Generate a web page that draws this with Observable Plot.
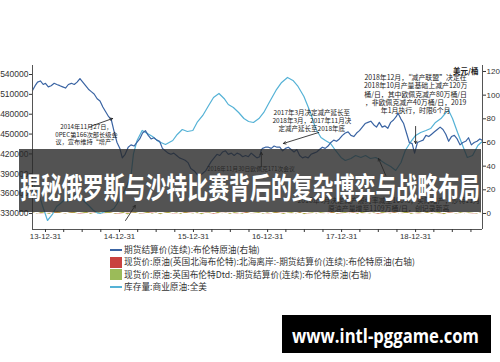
<!DOCTYPE html>
<html><head><meta charset="utf-8">
<script src="https://cdn.jsdelivr.net/npm/d3@7"></script>
<script src="https://cdn.jsdelivr.net/npm/@observablehq/plot@0.6"></script>
<style>
body{margin:0;background:#fff;}
#wrap{position:relative;width:500px;height:362px;overflow:hidden;background:#fff;font-family:"Noto Sans CJK SC","Noto Sans",sans-serif;}
#chart{position:absolute;left:0;top:0;}
#legend{position:absolute;left:110px;top:244px;font-size:8.7px;color:#333;line-height:12.3px;}
.row{display:flex;align-items:center;height:12.3px;white-space:nowrap;}
.sw{width:12px;margin-right:2px;flex:none;}
#overlay{position:absolute;left:0;top:0;}
</style></head><body>
<div id="wrap"><div id="chart"></div><div id="legend"></div><svg id="overlay" width="500" height="362"></svg></div>
<script>
// ---------- data ----------
const title = "揭秘俄罗斯与沙特比赛背后的复杂博弈与战略布局";
const watermark = "www.intl-pggame.com";
const rightUnit = "美元/桶";
const xDomain = ["2013-10-28", "2019-11-26"];
const leftTicks = [330000, 360000, 390000, 420000, 450000, 480000, 510000, 540000];
const rightTicks = [0, 20, 40, 60, 80, 100, 120];
const quarterTicks = ["2013-12-31","2014-03-31","2014-06-30","2014-09-30","2014-12-31","2015-03-31","2015-06-30","2015-09-30","2015-12-31","2016-03-31","2016-06-30","2016-09-30","2016-12-31","2017-03-31","2017-06-30","2017-09-30","2017-12-31","2018-03-31","2018-06-30","2018-09-30","2018-12-31","2019-03-31","2019-06-30","2019-09-30"];

const legendLabels = ["期货结算价(连续):布伦特原油(右轴)", "现货价:原油(英国北海布伦特):北海离岸:-期货结算价(连续):布伦特原油(右轴)", "现货价:原油:英国布伦特Dtd:-期货结算价(连续):布伦特原油(右轴)", "库存量:商业原油:全美"];
const legendKinds = ["line", "box", "box", "line"];
const colors = ["#3a64a3", "#c9423f", "#9bbb59", "#55b2d6"];

const brentDates = ["2013-10-28","2013-11-10","2013-11-22","2013-12-06","2013-12-20","2013-12-31","2014-01-14","2014-01-28","2014-02-12","2014-02-25","2014-03-12","2014-03-26","2014-04-09","2014-04-23","2014-05-08","2014-05-22","2014-06-05","2014-06-19","2014-07-03","2014-07-17","2014-07-31","2014-08-14","2014-08-28","2014-09-12","2014-09-26","2014-10-10","2014-10-24","2014-11-07","2014-11-21","2014-12-05","2014-12-19","2015-01-02","2015-01-14","2015-01-28","2015-02-12","2015-02-26","2015-03-13","2015-03-27","2015-04-10","2015-04-24","2015-05-08","2015-05-22","2015-06-05","2015-06-19","2015-07-03","2015-07-17","2015-07-31","2015-08-14","2015-08-28","2015-09-11","2015-09-25","2015-10-09","2015-10-23","2015-11-06","2015-11-20","2015-12-04","2015-12-18","2016-01-04","2016-01-18","2016-02-01","2016-02-15","2016-02-29","2016-03-14","2016-03-28","2016-04-11","2016-04-25","2016-05-09","2016-05-23","2016-06-06","2016-06-20","2016-07-05","2016-07-19","2016-08-02","2016-08-16","2016-08-30","2016-09-13","2016-09-27","2016-10-11","2016-10-25","2016-11-08","2016-11-22","2016-11-30","2016-12-06","2016-12-20","2017-01-04","2017-01-18","2017-02-01","2017-02-15","2017-03-01","2017-03-15","2017-03-29","2017-04-12","2017-04-26","2017-05-10","2017-05-24","2017-06-07","2017-06-21","2017-07-05","2017-07-19","2017-08-02","2017-08-16","2017-08-30","2017-09-13","2017-09-27","2017-10-11","2017-10-25","2017-11-08","2017-11-22","2017-12-06","2017-12-20","2018-01-04","2018-01-18","2018-02-01","2018-02-15","2018-03-01","2018-03-15","2018-03-29","2018-04-12","2018-04-26","2018-05-10","2018-05-24","2018-06-07","2018-06-21","2018-07-05","2018-07-19","2018-08-02","2018-08-16","2018-08-30","2018-09-13","2018-09-27","2018-10-05","2018-10-19","2018-11-02","2018-11-16","2018-11-30","2018-12-14","2018-12-26","2019-01-09","2019-01-23","2019-02-06","2019-02-20","2019-03-06","2019-03-20","2019-04-03","2019-04-17","2019-05-01","2019-05-15","2019-05-29","2019-06-12","2019-06-26","2019-07-10","2019-07-24","2019-08-07","2019-08-21","2019-09-04","2019-09-18","2019-10-02","2019-10-16","2019-10-30","2019-11-13","2019-11-22"];
const brentValues = [104,108,111,112,109,110,107,108,110,109,108,107,106,109,110,109,111,114,111,108,105,103,101,97,95,90,86,82,79,69,60,55,47,50,56,58,57,60,63,68,70,66,63,64,62,61,55,53,51,50,51,49,47,46,45,43,38,36,33,32,34,36,40,44,47,50,49,52,53,50,51,49,51,50,48,49,48,51,49,47,48,54,55,56,56,55,57,56,56,53,55,56,54,52,54,49,47,48,47,50,51,52,54,56,55,57,60,62,61,63,66,68,69,66,65,68,70,73,76,77,78,75,73,77,73,74,72,77,79,82,85,80,76,68,60,59,51,60,61,62,66,65,67,69,71,73,71,67,61,65,66,63,58,60,61,64,58,60,61,63,62];

const invDates = ["2013-10-30","2013-11-14","2013-11-27","2013-12-16","2014-01-10","2014-02-03","2014-02-24","2014-03-15","2014-04-05","2014-04-20","2014-05-05","2014-05-22","2014-06-06","2014-06-20","2014-07-05","2014-08-01","2014-08-25","2014-09-12","2014-09-27","2014-10-22","2014-11-18","2014-12-05","2014-12-20","2015-01-18","2015-02-05","2015-02-25","2015-03-10","2015-03-28","2015-04-22","2015-05-18","2015-06-12","2015-07-12","2015-08-15","2015-09-20","2015-10-12","2015-11-06","2015-12-01","2015-12-28","2016-01-18","2016-02-15","2016-03-15","2016-04-08","2016-05-05","2016-05-30","2016-06-20","2016-07-15","2016-08-10","2016-09-05","2016-09-28","2016-10-22","2016-11-18","2016-12-12","2017-01-05","2017-02-10","2017-03-10","2017-04-08","2017-05-05","2017-05-30","2017-06-28","2017-07-30","2017-08-25","2017-09-20","2017-10-12","2017-11-06","2017-12-01","2017-12-28","2018-01-18","2018-02-15","2018-03-10","2018-04-05","2018-04-28","2018-05-22","2018-06-18","2018-07-12","2018-08-03","2018-08-30","2018-09-24","2018-10-20","2018-11-10","2018-12-05","2018-12-31","2019-01-25","2019-02-20","2019-03-15","2019-04-08","2019-05-05","2019-05-30","2019-06-12","2019-07-01","2019-07-26","2019-08-20","2019-09-12","2019-10-08","2019-11-03","2019-11-22"];
const invValues = [375300,368000,361700,342000,319400,328500,340600,345100,351100,348000,355700,358000,360200,354000,349600,342100,334500,331000,330000,333000,334500,338000,345100,360200,372000,384400,420000,440300,455400,450900,446300,438800,434300,440300,449400,456900,453900,455400,467500,478100,493200,505300,511300,503800,494700,490200,482600,473500,469000,467500,473500,482600,496200,515900,528000,535500,531000,521900,506800,482600,458400,444800,440300,435800,425200,414600,410100,413100,417600,414600,417600,413100,414600,410100,405500,401000,395000,407100,425200,437300,447900,452400,455400,458400,467500,473500,482600,485600,473500,452400,432700,414600,417600,432700,438000];

// spreads (right axis, $/bbl), evenly sampled from 2013-11 to 2019-11
const dtdSpread = [0.6,-0.4,1.1,0.3,-0.8,0.9,1.4,0.2,-0.5,0.7,1.0,-0.3,0.5,1.2,-0.9,0.4,0.8,-0.2,1.5,0.6,-0.7,0.3,1.1,-1.2,0.5,0.9,-0.4,0.2,1.3,-0.6,0.7,-1.0,0.4,1.0,-0.3,0.6,-0.8,1.2,0.1,-0.5,0.9,-1.1,0.3,0.7,-0.4,1.0,-0.2,0.5,-0.9,0.8,0.2,-0.6,1.1,-0.3,0.4,0.9,-0.7,0.6,-0.2,1.3,0.3,-0.8,0.5,0.8,-0.4,1.0,-1.0,0.2,0.7,-0.5,0.9,0.1,-0.3,1.2,-0.6,0.4,0.8,-0.2,0.6,-0.9,1.0,0.3,-0.4,0.7,-0.7,1.1,0.2,-0.5,0.9,-0.3,0.5,1.4,-0.8,0.3,0.6,-0.2,1.0,-0.6,0.4,0.8,-1.0,0.5,0.2,-0.4,0.9,-0.3,0.7,0.1,-0.5,0.6];
const northSeaSpread = [0.3,-0.5,0.2,0.6,-0.3,0.4,-0.6,0.2,0.5,-0.2,0.3,-0.7,0.4,0.1,-0.4,0.6,-0.2,0.3,-0.5,0.2,0.4,-0.3,0.5,-0.6,0.2,0.3,-0.4,0.6,-0.2,0.1,-0.5,0.4,0.2,-0.3,0.5,-0.4,0.3,-0.2,0.6,-0.5,0.2,0.4,-0.3,0.1,-0.6,0.3,0.5,-0.2,0.4,-0.4,0.2,0.3,-0.5,0.6,-0.2,0.3,-0.4,0.2];

// annotations: text, date, level (left-axis units), anchor, font size
const noteTexts = [
  "2014年11月27日，\n0PEC第166次部长级会\n议，宣布维持“增产”",
  "2016年11月30日欧佩克171次会议",
  "2017年3月决定减产延长至\n2018年3月，2017年11月决\n定减产延长至2018年底",
  "2018年12月，“减产联盟”决定在\n2018年10月产量基础上减产120万\n桶/日，其中欧佩克减产80万桶/日\n，非欧佩克减产40万桶/日，2019\n年1月执行，时限6个月",
  "2018年6月决定减产履约率减至100%，实际增产，沙特11月\n原油产量增至1109万桶/日，创记录新高"
];
const noteDates = ["2014-07-21", "2016-03-08", "2017-08-06", "2018-12-31", "2018-08-20"];
const noteLevels = [449400, 398000, 470500, 510600, 343600];
const noteAnchors = ["middle", "start", "middle", "middle", "middle"];
const noteSizes = [6.2, 5.8, 6.5, 6.9, 6.9];

// arrows: from (date, level) to (date, level)
const arrowFrom = [["2014-08-14", 462000], ["2016-11-30", 401000], ["2017-09-09", 452400], ["2018-12-31", 461500], ["2018-08-06", 387400], ["2015-01-30", 319400]];
const arrowTo = [["2014-11-27", 473500], ["2016-11-30", 422200], ["2017-03-19", 435800], ["2018-12-31", 435800], ["2018-07-01", 413100], ["2015-03-19", 342100]];

// ---------- chart ----------
const toInv = v => 330000 + v * 1788;
const fromInv = d => (d - 330000) / 1788;
const P = s => new Date(s + "T00:00:00Z");
const x0 = P(xDomain[0]), x1 = P(xDomain[1]);
const yDomain = [305800, 553600];

const brent = brentDates.map((d, i) => ({date: P(d), y: toInv(brentValues[i])}));
const inv = invDates.map((d, i) => ({date: P(d), y: invValues[i]}));
const spanDays = (P("2019-11-20") - P("2013-11-01")) / 864e5;
const dtd = dtdSpread.map((v, i) => ({date: d3.utcDay.offset(P("2013-11-01"), Math.round(i * spanDays / (dtdSpread.length - 1))), y: toInv(v)}));
const ns = northSeaSpread.map((v, i) => ({date: d3.utcDay.offset(P("2013-11-01"), Math.round(i * spanDays / (northSeaSpread.length - 1))), y: toInv(v)}));
const qTicks = quarterTicks.map(P);
const fmt = d3.utcFormat("%y-%m-%d");

const noteMarks = noteTexts.map((t, i) => Plot.text([{date: P(noteDates[i]), y: noteLevels[i], t}], {
  x: "date", y: "y", text: "t", textAnchor: noteAnchors[i], lineAnchor: "middle",
  fontSize: noteSizes[i], lineHeight: 1.2, fill: "#1a1a1a",
  fontFamily: "'Noto Sans CJK SC', sans-serif"
}));
const arrows = arrowFrom.map((a, i) => ({xa: P(a[0]), ya: a[1], xb: P(arrowTo[i][0]), yb: arrowTo[i][1]}));

const chart = Plot.plot({
  width: 500, height: 245,
  marginLeft: 32, marginRight: 18, marginTop: 65, marginBottom: 16,
  x: {type: "utc", domain: [x0, x1]},
  y: {domain: yDomain},
  style: {fontFamily: "'Liberation Sans','Noto Sans CJK SC',sans-serif", fontSize: "8.5px", color: "#333", background: "transparent"},
  marks: [
    Plot.areaY(dtd, {x: "date", y1: toInv(0), y2: "y", fill: "#a9ad45", fillOpacity: 0.95}),
    Plot.areaY(ns, {x: "date", y1: toInv(0), y2: "y", fill: colors[1], fillOpacity: 0.6}),
    Plot.line(inv, {x: "date", y: "y", stroke: colors[3], strokeWidth: 1.2}),
    Plot.line(brent, {x: "date", y: "y", stroke: colors[0], strokeWidth: 1.2}),
    ...noteMarks,
    Plot.arrow(arrows, {x1: "xa", y1: "ya", x2: "xb", y2: "yb", stroke: "#111", strokeWidth: 0.8, headLength: 5}),
    Plot.text([{date: x1, y: toInv(120), t: rightUnit}], {x: "date", y: "y", text: "t", textAnchor: "end", dx: -4, fontSize: 7.5, fontWeight: "bold", fill: "#222", fontFamily: "'Noto Sans CJK SC', sans-serif"}),
    Plot.ruleX([x0], {stroke: "#555", strokeWidth: 1}),
    Plot.ruleX([x1], {stroke: "#555", strokeWidth: 1}),
    Plot.ruleY([yDomain[0]], {stroke: "#555", strokeWidth: 1}),
    Plot.axisY(leftTicks, {anchor: "left", tickSize: 3, tickPadding: 1, label: null, tickFormat: d => String(d), fontSize: 8.5}),
    Plot.axisY(rightTicks.map(toInv), {anchor: "right", tickSize: 3, tickPadding: 1, label: null, tickFormat: d => String(Math.round(fromInv(d))), fontSize: 8}),
    Plot.axisX(qTicks, {anchor: "bottom", tickSize: 3, tickPadding: 1, label: null, tickFormat: d => d.getUTCMonth() === 11 ? fmt(d) : "", fontSize: 7.8})
  ]
});
document.getElementById("chart").appendChild(chart);

// ---------- legend ----------
const leg = d3.select("#legend");
legendLabels.forEach((lab, i) => {
  const r = leg.append("div").attr("class", "row");
  if (legendKinds[i] === "line") {
    r.append("span").attr("class", "sw").style("height", "1.5px").style("background", colors[i]);
  } else {
    r.append("span").attr("class", "sw").style("height", "11px").style("background", colors[i]);
  }
  r.append("span").text(lab);
});

// ---------- overlay: title banner + watermark ----------
const ov = d3.select("#overlay");
ov.append("rect").attr("x", 19).attr("y", 149).attr("width", 462).attr("height", 63).attr("fill", "rgba(40,40,40,0.8)");
ov.append("text").attr("x", 250).attr("y", 199).attr("text-anchor", "middle")
  .attr("font-size", 29).attr("font-weight", "bold").attr("fill", "#fff")
  .attr("font-family", "'Noto Sans CJK SC', sans-serif")
  .attr("textLength", 460).attr("lengthAdjust", "spacingAndGlyphs").text(title);
ov.append("rect").attr("x", 282).attr("y", 315).attr("width", 209).attr("height", 38).attr("fill", "#000");
ov.append("text").attr("x", 385.5).attr("y", 343).attr("text-anchor", "middle")
  .attr("font-size", 19).attr("font-weight", "bold").attr("fill", "#fff")
  .attr("font-family", "'Open Sans', sans-serif")
  .attr("textLength", 187).attr("lengthAdjust", "spacingAndGlyphs").text(watermark);
</script>
</body></html>
